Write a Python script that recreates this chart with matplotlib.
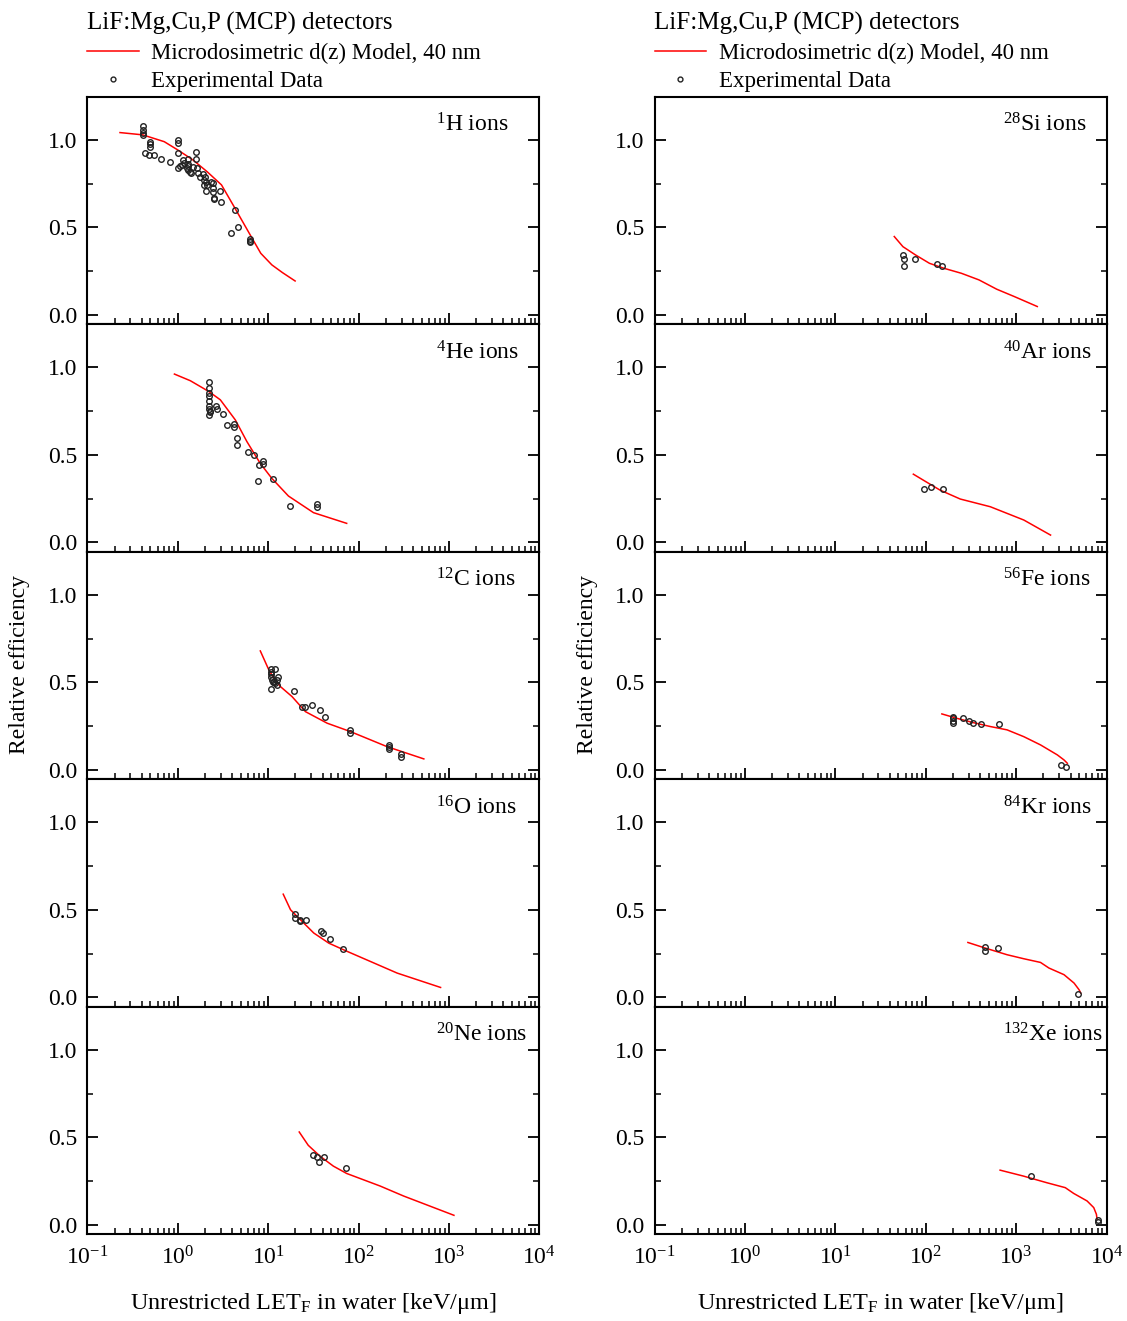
import matplotlib
matplotlib.use("Agg")
import matplotlib.pyplot as plt
from matplotlib.lines import Line2D
from matplotlib.ticker import LogLocator, MultipleLocator, AutoMinorLocator, NullFormatter

plt.rcParams['font.family'] = ['Liberation Serif', 'DejaVu Serif']
plt.rcParams['mathtext.fontset'] = 'custom'
plt.rcParams['mathtext.rm'] = 'Liberation Serif'
plt.rcParams['mathtext.it'] = 'Liberation Serif:italic'
plt.rcParams['axes.unicode_minus'] = False
plt.rcParams['font.size'] = 17

# ---------------- data ----------------
# 1H
h_model_x = [0.23, 0.41, 0.71, 1.0, 1.47, 2.11, 3.05, 4.2, 6.34, 8.3, 11, 14.4, 19.9]
h_model_y = [1.042, 1.029, 0.99, 0.943, 0.886, 0.819, 0.743, 0.619, 0.457, 0.352, 0.286, 0.242, 0.194]
h_exp_x = [0.41, 0.41, 0.41, 0.41, 0.43, 0.48, 0.50, 0.50, 0.50, 0.55, 0.66, 0.83,
           1.0, 1.0, 1.0, 1.0, 1.07, 1.12, 1.14, 1.18, 1.28, 1.29, 1.29, 1.29, 1.30,
           1.37, 1.41, 1.47, 1.58, 1.58, 1.64, 1.68, 1.77, 1.91, 1.94, 2.0, 2.08, 2.11,
           1.94, 2.32, 2.43, 2.07, 2.43, 2.43, 2.5, 2.5, 2.92, 3.05, 3.87, 4.28, 4.67,
           6.34, 6.34, 6.34]
h_exp_y = [1.082, 1.057, 1.042, 1.029, 0.928, 0.914, 0.99, 0.975, 0.962, 0.914, 0.893, 0.876,
           1.0, 0.985, 0.928, 0.842, 0.851, 0.857, 0.886, 0.867, 0.838, 0.853, 0.829, 0.89, 0.863,
           0.819, 0.81, 0.848, 0.93, 0.89, 0.838, 0.81, 0.79, 0.806, 0.771, 0.79, 0.76, 0.743,
           0.743, 0.762, 0.756, 0.71, 0.724, 0.70, 0.666, 0.66, 0.71, 0.648, 0.47, 0.598, 0.503,
           0.436, 0.425, 0.419]

# 4He
he_model_x = [0.92, 1.38, 2.2, 2.96, 4.34, 5.83, 8.18, 11, 16.8, 31.8, 74]
he_model_y = [0.962, 0.924, 0.863, 0.815, 0.70, 0.576, 0.452, 0.366, 0.265, 0.17, 0.109]
he_exp_x = [2.2, 2.2, 2.2, 2.2, 2.2, 2.2, 2.2, 2.25, 2.2, 2.25, 2.65, 2.72, 3.17, 3.5,
            4.23, 4.23, 4.52, 4.52, 5.98, 6.9, 7.64, 7.97, 8.83, 8.83, 11.3, 17.3, 34.5, 34.5]
he_exp_y = [0.918, 0.882, 0.853, 0.838, 0.809, 0.781, 0.761, 0.752, 0.729, 0.744, 0.781, 0.761,
            0.735, 0.672, 0.676, 0.662, 0.595, 0.555, 0.515, 0.50, 0.353, 0.443, 0.464, 0.448,
            0.363, 0.208, 0.218, 0.204]

# 12C
c_model_x = [8.2, 10.2, 11.6, 13.7, 18.4, 25.9, 45, 81.5, 207, 528]
c_model_y = [0.68, 0.571, 0.524, 0.476, 0.419, 0.333, 0.267, 0.219, 0.133, 0.063]
c_exp_x = [10.8, 10.8, 10.8, 10.8, 11.0, 11.3, 11.9, 10.9, 12.0, 12.6, 13.0, 12.6, 11.6,
           19.2, 23.8, 25.9, 30.7, 37.9, 43.1, 81.5, 81.5, 217, 217, 217, 292, 292]
c_exp_y = [0.577, 0.562, 0.549, 0.533, 0.514, 0.505, 0.577, 0.461, 0.495, 0.514, 0.533, 0.486,
           0.505, 0.451, 0.362, 0.362, 0.371, 0.341, 0.305, 0.229, 0.213, 0.143, 0.13, 0.118,
           0.091, 0.076]

# 16O
o_model_x = [14.7, 17.7, 20.9, 32, 47, 75, 268, 809]
o_model_y = [0.59, 0.501, 0.463, 0.368, 0.31, 0.263, 0.139, 0.057]
o_exp_x = [19.9, 19.7, 22.8, 22.8, 26.4, 38.6, 40.3, 47.8, 67]
o_exp_y = [0.476, 0.453, 0.44, 0.434, 0.442, 0.381, 0.371, 0.333, 0.278]

# 20Ne
ne_model_x = [22.1, 27.8, 37.5, 52.7, 74, 174, 316, 1137]
ne_model_y = [0.531, 0.455, 0.393, 0.336, 0.294, 0.222, 0.165, 0.055]
ne_exp_x = [31.6, 34.4, 36.2, 41.9, 73.6]
ne_exp_y = [0.402, 0.389, 0.361, 0.389, 0.326]

# 28Si
si_model_x = [44.9, 56, 77, 110, 158, 248, 389, 610, 955, 1715]
si_model_y = [0.448, 0.39, 0.343, 0.295, 0.267, 0.238, 0.2, 0.147, 0.105, 0.048]
si_exp_x = [56.2, 57.8, 57.3, 75.7, 132, 153]
si_exp_y = [0.343, 0.318, 0.28, 0.322, 0.291, 0.28]

# 40Ar
ar_model_x = [73, 94, 144, 241, 518, 794, 1217, 2405]
ar_model_y = [0.39, 0.356, 0.299, 0.248, 0.204, 0.166, 0.128, 0.042]
ar_exp_x = [95.8, 114, 157]
ar_exp_y = [0.307, 0.318, 0.307]

# 56Fe
fe_model_x = [151, 221, 338, 518, 794, 1217, 1862, 2856, 3388, 3688]
fe_model_y = [0.32, 0.295, 0.27, 0.248, 0.229, 0.19, 0.143, 0.086, 0.057, 0.038]
fe_exp_x = [198, 198, 198, 198, 258, 305, 333, 408, 653, 3162, 3532]
fe_exp_y = [0.305, 0.295, 0.282, 0.267, 0.295, 0.282, 0.27, 0.261, 0.263, 0.029, 0.019]

# 84Kr
kr_model_x = [293, 456, 794, 1217, 1862, 2307, 3388, 4376, 4970, 5187]
kr_model_y = [0.314, 0.282, 0.244, 0.221, 0.2, 0.168, 0.13, 0.082, 0.044, 0.025]
kr_exp_x = [456, 456, 631, 4890]
kr_exp_y = [0.288, 0.263, 0.28, 0.019]

# 132Xe
xe_model_x = [665, 1207, 2193, 3500, 4335, 6095, 7225, 7730, 7870]
xe_model_y = [0.313, 0.279, 0.241, 0.213, 0.18, 0.137, 0.099, 0.061, 0.032]
xe_exp_x = [1469, 8070, 8070]
xe_exp_y = [0.279, 0.028, 0.017]

left_panels = [
    ("$^{1}$H ions", h_model_x, h_model_y, h_exp_x, h_exp_y),
    ("$^{4}$He ions", he_model_x, he_model_y, he_exp_x, he_exp_y),
    ("$^{12}$C ions", c_model_x, c_model_y, c_exp_x, c_exp_y),
    ("$^{16}$O ions", o_model_x, o_model_y, o_exp_x, o_exp_y),
    ("$^{20}$Ne ions", ne_model_x, ne_model_y, ne_exp_x, ne_exp_y),
]
right_panels = [
    ("$^{28}$Si ions", si_model_x, si_model_y, si_exp_x, si_exp_y),
    ("$^{40}$Ar ions", ar_model_x, ar_model_y, ar_exp_x, ar_exp_y),
    ("$^{56}$Fe ions", fe_model_x, fe_model_y, fe_exp_x, fe_exp_y),
    ("$^{84}$Kr ions", kr_model_x, kr_model_y, kr_exp_x, kr_exp_y),
    ("$^{132}$Xe ions", xe_model_x, xe_model_y, xe_exp_x, xe_exp_y),
]

W, H = 1127, 1321
fig = plt.figure(figsize=(W / 100, H / 100), dpi=100)

top_px = 96.7
ph = 227.5
aw = 452
col_x = [87.3, 654.5]

for col, panels in enumerate([left_panels, right_panels]):
    for row, (name, mx, my, ex, ey) in enumerate(panels):
        rect = [col_x[col] / W, 1 - (top_px + (row + 1) * ph) / H, aw / W, ph / H]
        ax = fig.add_axes(rect)
        ax.plot(mx, my, color='#ff0000', lw=1.1)
        ax.plot(ex, ey, 'o', ms=4, mfc='none', mec='#222222', mew=1.0)
        ax.set_xscale('log')
        ax.set_xlim(0.1, 1e4)
        ax.set_ylim(-0.053, 1.247)
        ax.yaxis.set_major_locator(MultipleLocator(0.5))
        ax.yaxis.set_minor_locator(AutoMinorLocator(2))
        ax.xaxis.set_major_locator(LogLocator(base=10, numticks=10))
        ax.xaxis.set_minor_locator(LogLocator(base=10, subs=range(2, 10), numticks=20))
        ax.xaxis.set_minor_formatter(NullFormatter())
        ax.tick_params(axis='both', which='both', direction='in', top=False, right=True)
        ax.tick_params(axis='both', which='major', length=8, width=1.3, labelsize=17)
        ax.tick_params(axis='both', which='minor', length=4.5, width=1.1)
        ax.tick_params(axis='y', pad=7)
        ax.tick_params(axis='x', pad=9)
        for sp in ax.spines.values():
            sp.set_linewidth(1.5)
        ax.text(0.772, 0.875, name, transform=ax.transAxes, ha='left', va='center', fontsize=17)
        if row < 4:
            ax.tick_params(axis='x', which='both', labelbottom=False)
        else:
            ax.set_xlabel("Unrestricted LET$_\\mathrm{F}$ in water [keV/\u03bcm]", fontsize=17.5, labelpad=15)
        if row == 0:
            handles = [Line2D([], [], color='#ff0000', lw=1.1),
                       Line2D([], [], ls='none', marker='o', ms=3.5, mfc='none', mec='#222222', mew=1.0)]
            leg = ax.legend(handles, ["Microdosimetric d(z) Model, 40 nm", "Experimental Data"],
                            title="LiF:Mg,Cu,P (MCP) detectors", title_fontsize=18, fontsize=16.5,
                            loc='lower left', bbox_to_anchor=(0.0, 1.02), frameon=False,
                            alignment='left', borderpad=0, borderaxespad=0, handlelength=2.25,
                            handletextpad=0.55, labelspacing=0.32)
    fig.text((20 if col == 0 else 588) / W, 1 - 665 / H, "Relative efficiency",
             rotation=90, ha='center', va='center', fontsize=17)

fig.savefig("out.png", dpi=100)
